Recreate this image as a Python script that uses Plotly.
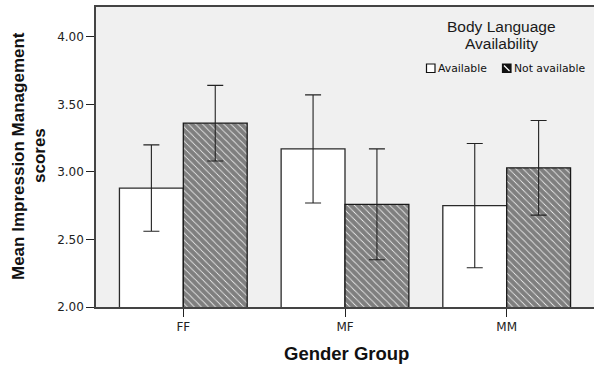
import plotly.graph_objects as go

categories = ["FF", "MF", "MM"]
available_means = [2.88, 3.17, 2.75]
available_err = [0.32, 0.40, 0.46]
not_available_means = [3.36, 2.76, 3.03]
not_available_err = [0.28, 0.41, 0.35]
y_ticks = [2.0, 2.5, 3.0, 3.5, 4.0]
y_tick_labels = ["2.00", "2.50", "3.00", "3.50", "4.00"]
legend_title = ["Body Language", "Availability"]
series_names = ["Available", "Not available"]

ARIAL = "Arial, Liberation Sans, sans-serif"
DEJAVU = "DejaVu Sans, Verdana, sans-serif"

W, H = 594, 367
ML, MR, MT, MB = 96, 0, 7, 60
PW, PH = W - ML - MR, H - MT - MB


def px(xp):
    return (xp - ML) / PW


def py(yp):
    return (H - MB - yp) / PH


fig = go.Figure()
fig.add_trace(go.Bar(
    x=categories, y=available_means, name=series_names[0],
    marker=dict(color="white", line=dict(color="#2a2a2a", width=1.3)),
    error_y=dict(type="data", array=available_err, color="#222", thickness=1.1, width=8),
))
fig.add_trace(go.Bar(
    x=categories, y=not_available_means, name=series_names[1],
    marker=dict(color="white", line=dict(color="#1a1a1a", width=1.3),
                pattern=dict(shape="\\", fgcolor="#000", bgcolor="#ffffff", size=5, solidity=0.85)),
    error_y=dict(type="data", array=not_available_err, color="#222", thickness=1.1, width=8),
))

shapes = []
annotations = []
# legend title
for txt, yy in zip(legend_title, [26, 43]):
    annotations.append(dict(text=txt, xref="paper", yref="paper", x=px(501), y=py(yy),
                            xanchor="center", yanchor="middle", showarrow=False,
                            font=dict(family=ARIAL, size=15.5, color="#1a1a1a")))
# legend entries
shapes.append(dict(type="rect", xref="paper", yref="paper", x0=px(426.5), x1=px(435), y0=py(72.5), y1=py(64),
                   fillcolor="white", line=dict(color="#111", width=1.2)))
annotations.append(dict(text=series_names[0], xref="paper", yref="paper", x=px(436), y=py(68.5),
                        xanchor="left", yanchor="middle", showarrow=False,
                        font=dict(family=DEJAVU, size=10.8, color="#111")))
shapes.append(dict(type="rect", xref="paper", yref="paper", x0=px(502.5), x1=px(511), y0=py(72.5), y1=py(64),
                   fillcolor="#111", line=dict(color="#111", width=1.2)))
shapes.append(dict(type="line", xref="paper", yref="paper", x0=px(504), x1=px(509.5), y0=py(65.5), y1=py(71),
                   line=dict(color="white", width=1.3)))
annotations.append(dict(text=series_names[1], xref="paper", yref="paper", x=px(512), y=py(68.5),
                        xanchor="left", yanchor="middle", showarrow=False,
                        font=dict(family=DEJAVU, size=10.8, color="#111")))
# y axis title (two centred lines)
annotations.append(dict(text="<b>Mean Impression Management</b>", xref="paper", yref="paper",
                        x=px(18), y=py(156), xanchor="center", yanchor="middle", textangle=-90,
                        showarrow=False, font=dict(family=ARIAL, size=17, color="#111")))
annotations.append(dict(text="<b>scores</b>", xref="paper", yref="paper",
                        x=px(39), y=py(156), xanchor="center", yanchor="middle", textangle=-90,
                        showarrow=False, font=dict(family=ARIAL, size=17, color="#111")))
# x axis title
annotations.append(dict(text="<b>Gender Group</b>", xref="paper", yref="paper",
                        x=px(346), y=py(353), xanchor="center", yanchor="middle",
                        showarrow=False, font=dict(family=ARIAL, size=18.5, color="#111")))

fig.update_layout(
    width=W, height=H,
    margin=dict(l=ML, r=MR, t=MT, b=MB),
    paper_bgcolor="white", plot_bgcolor="#f0f0f0",
    barmode="group", bargap=0.21, bargroupgap=0,
    font=dict(family=DEJAVU, size=12, color="#222"),
    showlegend=False,
    shapes=shapes,
    annotations=annotations,
    xaxis=dict(
        range=[-0.54, 2.54], showgrid=False, ticks="outside", ticklen=8,
        tickcolor="#222", showline=True, linecolor="#444", linewidth=1.5, mirror=True,
        tickfont=dict(family=DEJAVU, size=12, color="#222"),
    ),
    yaxis=dict(
        range=[2.0, 4.22], tickvals=y_ticks, ticktext=y_tick_labels, showgrid=False,
        ticks="outside", ticklen=8, tickcolor="#222", showline=True, linecolor="#444",
        linewidth=1.5, mirror=False, zeroline=False,
        tickfont=dict(family=DEJAVU, size=12, color="#222"),
    ),
)

fig.write_html("out.html", config={"displayModeBar": False},
               post_script="document.body.style.margin='0';document.body.style.overflow='hidden';")
